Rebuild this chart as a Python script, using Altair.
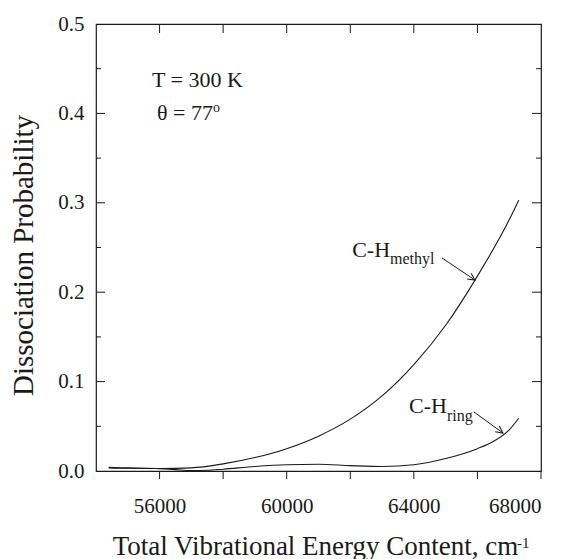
import math
import altair as alt
import pandas as pd

# ---- data ----
energy_methyl = [54400, 55000, 56000, 57000, 58000, 59000, 60000, 61000, 62000,
                 63000, 64000, 65000, 66000, 67000, 67300]
prob_methyl = [0.0035, 0.003, 0.0028, 0.0035, 0.008, 0.015, 0.025, 0.039, 0.058,
               0.084, 0.119, 0.163, 0.218, 0.281, 0.303]

energy_ring = [54400, 55000, 56000, 56500, 57000, 57500, 58000, 59000, 60000, 61000,
               62000, 63000, 64000, 65000, 66000, 66500, 67000, 67300]
prob_ring = [0.004, 0.0035, 0.0025, 0.0015, 0.0005, 0.0008, 0.002, 0.005, 0.007, 0.0075,
             0.006, 0.005, 0.007, 0.014, 0.025, 0.033, 0.046, 0.059]

x_label_values = [56000, 60000, 64000, 68000]
x_tick_values = [56000, 58000, 60000, 62000, 64000, 66000, 68000]
x_top_ticks = [56000, 58000, 60000, 62000, 64000, 66000]
y_label_values = [0.0, 0.1, 0.2, 0.3, 0.4, 0.5]
y_major_ticks = [0.1, 0.2, 0.3, 0.4]
y_minor_ticks = [0.05, 0.15, 0.25, 0.35, 0.45]

X_DOMAIN = [54000, 68000]
Y_DOMAIN = [0.0, 0.5]
W, H = 445, 447

FONT = "Liberation Serif"
INK = "#1a1a1a"

xs = alt.Scale(domain=X_DOMAIN, nice=False, zero=False)
ys = alt.Scale(domain=Y_DOMAIN, nice=False, zero=False)

XAX = alt.Axis(values=x_label_values, format="d", ticks=False, domain=False,
               grid=False, labelFont=FONT, labelFontSize=21, labelColor=INK,
               labelBaseline="alphabetic", labelPadding=41,
               title="Total Vibrational Energy Content, cm",
               titleFont=FONT, titleFontSize=27, titleFontWeight="normal",
               titleColor=INK, titleBaseline="alphabetic", titleY=83, titleX=219)
YAX = alt.Axis(values=y_label_values, format=".1f", ticks=False, domain=False,
               grid=False, labelFont=FONT, labelFontSize=21, labelColor=INK,
               labelPadding=12, title="Dissociation Probability",
               titleFont=FONT, titleFontSize=29, titleFontWeight="normal",
               titleColor=INK, titleBaseline="alphabetic", titleAngle=270,
               titleX=-64, titleY=231)


def X(field):
    return alt.X(field, scale=xs, axis=XAX)


def Y(field):
    return alt.Y(field, scale=ys, axis=YAX)


curves = pd.concat([
    pd.DataFrame({"e": energy_methyl, "p": prob_methyl, "s": "methyl"}),
    pd.DataFrame({"e": energy_ring, "p": prob_ring, "s": "ring"}),
])

lines = alt.Chart(curves).mark_line(color=INK, strokeWidth=1.1, interpolate="monotone").encode(
    x=X("e:Q"), y=Y("p:Q"), detail="s:N")

# ---- tick marks (inward on left / top / right, outward on bottom) ----
top_ticks = alt.Chart(pd.DataFrame({"v": x_top_ticks})).mark_rule(color=INK, strokeWidth=1).encode(
    x=X("v:Q"), y=alt.value(0), y2=alt.value(9))
bottom_ticks = alt.Chart(pd.DataFrame({"v": x_tick_values})).mark_rule(color=INK, strokeWidth=1).encode(
    x=X("v:Q"), y=alt.value(H), y2=alt.value(H + 8))
left_major = alt.Chart(pd.DataFrame({"v": y_major_ticks})).mark_rule(color=INK, strokeWidth=1).encode(
    y=Y("v:Q"), x=alt.value(0), x2=alt.value(9))
left_minor = alt.Chart(pd.DataFrame({"v": y_minor_ticks})).mark_rule(color=INK, strokeWidth=1).encode(
    y=Y("v:Q"), x=alt.value(0), x2=alt.value(5))
right_major = alt.Chart(pd.DataFrame({"v": y_major_ticks})).mark_rule(color=INK, strokeWidth=1).encode(
    y=Y("v:Q"), x=alt.value(W), x2=alt.value(W - 9))
right_minor = alt.Chart(pd.DataFrame({"v": y_minor_ticks})).mark_rule(color=INK, strokeWidth=1).encode(
    y=Y("v:Q"), x=alt.value(W), x2=alt.value(W - 5))

# ---- annotations ----
left_text = pd.DataFrame({"x": [55760, 55920], "y": [0.429, 0.3926],
                          "t": ["T = 300 K", "\u03b8 = 77"]})
right_text = pd.DataFrame({"x": [65040, 63250], "y": [0.0649, 0.2394], "t": ["C-H", "C-H"]})
sub_text = pd.DataFrame({"x": [65040, 63250], "y": [0.0559, 0.2315], "t": ["ring", "methyl"]})
sup_text = pd.DataFrame({"x": [57680], "y": [0.4016], "t": ["o"]})

t_left = alt.Chart(left_text).mark_text(
    font=FONT, fontSize=22, color=INK, align="left", baseline="alphabetic").encode(
    x=X("x:Q"), y=Y("y:Q"), text="t:N")
t_right = alt.Chart(right_text).mark_text(
    font=FONT, fontSize=22, color=INK, align="right", baseline="alphabetic").encode(
    x=X("x:Q"), y=Y("y:Q"), text="t:N")
t_sub = alt.Chart(sub_text).mark_text(
    font=FONT, fontSize=16, color=INK, align="left", baseline="alphabetic").encode(
    x=X("x:Q"), y=Y("y:Q"), text="t:N")
t_sup = alt.Chart(sup_text).mark_text(
    font=FONT, fontSize=14, color=INK, align="left", baseline="alphabetic").encode(
    x=X("x:Q"), y=Y("y:Q"), text="t:N")
cm_sup = alt.Chart(pd.DataFrame({"t": ["-1"]})).mark_text(
    font=FONT, fontSize=15, color=INK, align="left", baseline="alphabetic").encode(
    x=alt.value(421), y=alt.value(524), text="t:N")

# arrows: start -> tip
arrow_x1 = [64885, 65892]
arrow_y1 = [0.2383, 0.0660]
arrow_x2 = [65923, 66804]
arrow_y2 = [0.2136, 0.0425]
arrows = pd.DataFrame({"x1": arrow_x1, "y1": arrow_y1, "x2": arrow_x2, "y2": arrow_y2})
arrows["ang"] = [
    (math.degrees(math.atan2(-(b2 - b1) * H / (Y_DOMAIN[1] - Y_DOMAIN[0]),
                             (a2 - a1) * W / (X_DOMAIN[1] - X_DOMAIN[0]))) + 360) % 360
    for a1, b1, a2, b2 in zip(arrow_x1, arrow_y1, arrow_x2, arrow_y2)
]

shafts = alt.Chart(arrows).mark_rule(color=INK, strokeWidth=1).encode(
    x=X("x1:Q"), y=Y("y1:Q"), x2="x2:Q", y2="y2:Q")
heads = alt.Chart(arrows).mark_point(
    shape="M-1,-0.5L0,0L-1,0.5", filled=False, color=INK, strokeWidth=1, size=200, opacity=1).encode(
    x=X("x2:Q"), y=Y("y2:Q"), angle=alt.Angle("ang:Q", scale=None))

chart = alt.layer(
    lines, top_ticks, bottom_ticks, left_major, left_minor, right_major, right_minor,
    t_left, t_right, t_sub, t_sup, cm_sup, shafts, heads,
).properties(
    width=W, height=H,
    autosize=alt.AutoSizeParams(type="none"),
    padding={"left": 96, "top": 24, "right": 29, "bottom": 88},
    background="white",
).configure_view(stroke=INK, strokeWidth=1.2)

chart.save("out.html", embed_options={"renderer": "svg", "actions": False})
